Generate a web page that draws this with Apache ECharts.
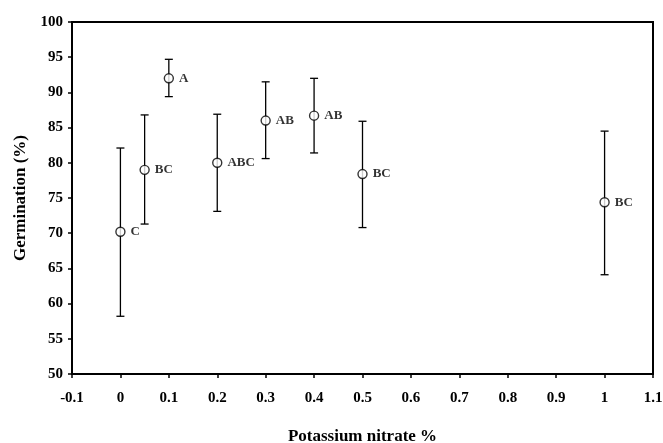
<!DOCTYPE html>
<html>
<head>
<meta charset="utf-8">
<script src="https://cdn.jsdelivr.net/npm/echarts@6/dist/echarts.min.js"></script>
<style>
  html, body { margin: 0; padding: 0; background: #fff; }
  main { width: 663px; height: 443px; }
</style>
</head>
<body>
<main></main>
<script>
const doses = [0, 0.05, 0.1, 0.2, 0.3, 0.4, 0.5, 1]
const germination = [70.2, 79.0, 92.0, 80.0, 86.0, 86.7, 78.4, 74.4]
const upper = [82.1, 86.8, 94.7, 86.9, 91.5, 92.0, 85.9, 84.5]
const lower = [58.2, 71.3, 89.4, 73.1, 80.6, 81.4, 70.8, 64.1]
const letters = ['C', 'BC', 'A', 'ABC', 'AB', 'AB', 'BC', 'BC']

const font = '"Liberation Serif", "Times New Roman", serif'
const chart = echarts.init(document.querySelector('main'))

const points = doses.map((d, i) => ({ value: [d, germination[i]], label: { formatter: letters[i] } }))
const bars = doses.map((d, i) => [d, lower[i], upper[i]])

chart.setOption({
  animation: false,
  grid: {
    left: 72, right: 10, top: 22, bottom: 69,
    outerBoundsMode: 'none',
    show: true, borderColor: '#000', borderWidth: 2,
  },
  xAxis: {
    type: 'value',
    min: -0.1,
    max: 1.1,
    interval: 0.1,
    name: 'Potassium nitrate %',
    nameLocation: 'middle',
    nameGap: 54,
    nameTextStyle: { fontFamily: font, fontWeight: 'bold', fontSize: 17, color: '#000' },
    axisLine: { onZero: false, lineStyle: { color: '#000', width: 2 } },
    axisTick: { show: true, length: 4, lineStyle: { color: '#000', width: 1.5 } },
    axisLabel: {
      margin: 17,
      fontFamily: font, fontWeight: 'bold', fontSize: 15, color: '#000',
      formatter: (v) => String(+v.toFixed(1)),
    },
    splitLine: { show: false },
  },
  yAxis: {
    type: 'value',
    min: 50,
    max: 100,
    interval: 5,
    name: 'Germination (%)',
    nameLocation: 'middle',
    nameGap: 37,
    nameTextStyle: { fontFamily: font, fontWeight: 'bold', fontSize: 17, color: '#000' },
    axisLine: { show: true, onZero: false, lineStyle: { color: '#000', width: 2 } },
    axisTick: { show: true, length: 4, lineStyle: { color: '#000', width: 1.5 } },
    axisLabel: { margin: 9, fontFamily: font, fontWeight: 'bold', fontSize: 15, color: '#000' },
    splitLine: { show: false },
  },
  series: [
    {
      type: 'custom',
      data: bars,
      z: 2,
      renderItem: (params, api) => {
        const top = api.coord([api.value(0), api.value(2)])
        const bot = api.coord([api.value(0), api.value(1)])
        const x = top[0]
        const w = 4
        const style = { stroke: '#000', lineWidth: 1.3 }
        return {
          type: 'group',
          children: [
            { type: 'line', shape: { x1: x, y1: top[1], x2: x, y2: bot[1] }, style },
            { type: 'line', shape: { x1: x - w, y1: top[1], x2: x + w, y2: top[1] }, style },
            { type: 'line', shape: { x1: x - w, y1: bot[1], x2: x + w, y2: bot[1] }, style },
          ],
        }
      },
    },
    {
      type: 'scatter',
      data: points,
      z: 3,
      symbol: 'circle',
      symbolSize: 9,
      itemStyle: { color: '#fff', borderColor: '#000', borderWidth: 1.4 },
      label: {
        show: true,
        position: 'right',
        distance: 5,
        fontFamily: font,
        fontWeight: 'bold',
        fontSize: 13,
        color: '#000',
      },
    },
  ],
})
</script>
</body>
</html>
